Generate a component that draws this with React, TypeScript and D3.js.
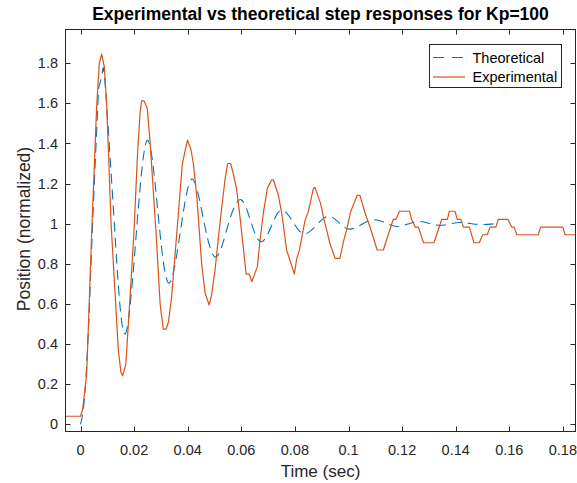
import React from "react";
import * as d3 from "d3";

// Theoretical step response
const theoTime = [0, 0.001, 0.002, 0.003, 0.0035, 0.0045, 0.0063, 0.007, 0.0081, 0.0092, 0.0126, 0.0166, 0.0211, 0.0252, 0.0293, 0.0332, 0.0377, 0.0418, 0.0462, 0.0506, 0.0552, 0.0598, 0.0638, 0.0676, 0.0716, 0.0753, 0.0797, 0.0838, 0.0886, 0.0928, 0.0969, 0.1006, 0.1054, 0.11, 0.1145, 0.1184, 0.1226, 0.1266, 0.1305, 0.1343, 0.1381, 0.1418, 0.146, 0.15, 0.1552];
const theoValue = [0, 0.07, 0.23, 0.49, 0.65, 1.0, 1.55, 1.69, 1.75, 1.69, 1.0, 0.45, 1.0, 1.415, 1.0, 0.705, 1.0, 1.222, 1.0, 0.834, 1.0, 1.12, 1.0, 0.91, 1.0, 1.068, 1.0, 0.95, 1.0, 1.037, 1.0, 0.973, 1.0, 1.02, 1.0, 0.986, 1.0, 1.011, 1.0, 0.992, 1.0, 1.006, 1.0, 0.996, 1.0];

const expTime = [-0.0058, 0.0, 0.0008, 0.0023, 0.0042, 0.006, 0.007, 0.0079, 0.0089, 0.0098, 0.0114, 0.0141, 0.0151, 0.0157, 0.0169, 0.0185, 0.0199, 0.0212, 0.0222, 0.0228, 0.0237, 0.0249, 0.0259, 0.0282, 0.0297, 0.0309, 0.0319, 0.0328, 0.034, 0.0359, 0.038, 0.0399, 0.0412, 0.0421, 0.0434, 0.0452, 0.0465, 0.048, 0.0489, 0.0502, 0.052, 0.0539, 0.0549, 0.056, 0.057, 0.0583, 0.0595, 0.0607, 0.0618, 0.063, 0.0639, 0.066, 0.067, 0.0682, 0.0697, 0.0713, 0.072, 0.0738, 0.0751, 0.0769, 0.0798, 0.0807, 0.0817, 0.0838, 0.085, 0.0869, 0.0875, 0.0896, 0.0906, 0.0931, 0.095, 0.0968, 0.0981, 0.0993, 0.1008, 0.1033, 0.1043, 0.1062, 0.108, 0.1107, 0.113, 0.1167, 0.1177, 0.119, 0.1228, 0.1235, 0.1249, 0.1261, 0.128, 0.1319, 0.1348, 0.1369, 0.1376, 0.1397, 0.1406, 0.1419, 0.1429, 0.1451, 0.1468, 0.1488, 0.1501, 0.1518, 0.1528, 0.155, 0.1559, 0.1595, 0.1609, 0.1618, 0.1628, 0.1708, 0.1717, 0.18, 0.1808, 0.1849];
const expValue = [0.04, 0.04, 0.075, 0.25, 0.97, 1.58, 1.8, 1.845, 1.78, 1.58, 1.0, 0.37, 0.257, 0.242, 0.3, 0.64, 0.95, 1.33, 1.55, 1.612, 1.612, 1.575, 1.417, 0.95, 0.6, 0.474, 0.474, 0.51, 0.636, 0.95, 1.3, 1.417, 1.37, 1.3, 1.135, 0.8, 0.653, 0.595, 0.645, 0.77, 1.0, 1.218, 1.3, 1.3, 1.25, 1.168, 1.035, 0.885, 0.749, 0.749, 0.711, 0.786, 0.92, 1.05, 1.176, 1.218, 1.218, 1.143, 1.052, 0.869, 0.749, 0.827, 0.869, 1.018, 1.06, 1.176, 1.18, 1.1, 1.035, 0.9, 0.827, 0.827, 0.91, 0.969, 1.06, 1.143, 1.14, 1.052, 0.985, 0.869, 0.869, 1.022, 1.022, 1.062, 1.062, 1.022, 0.983, 0.983, 0.905, 0.905, 1.022, 1.022, 1.062, 1.062, 1.022, 1.022, 0.983, 0.983, 0.905, 0.905, 0.945, 0.945, 0.983, 0.983, 1.022, 1.022, 0.983, 0.983, 0.945, 0.945, 0.983, 0.983, 0.945, 0.945];

const xTicks = [0, 0.02, 0.04, 0.06, 0.08, 0.1, 0.12, 0.14, 0.16, 0.18];
const xTickLabels = ["0", "0.02", "0.04", "0.06", "0.08", "0.1", "0.12", "0.14", "0.16", "0.18"];
const yTicks = [0, 0.2, 0.4, 0.6, 0.8, 1, 1.2, 1.4, 1.6, 1.8];
const yTickLabels = ["0", "0.2", "0.4", "0.6", "0.8", "1", "1.2", "1.4", "1.6", "1.8"];
const seriesNames = ["Theoretical", "Experimental"];

const W = 577;
const H = 483;
const L = 65.5, R = 575.5, T = 29.5, B = 431.5;
const BLUE = "#0072BD";
const ORANGE = "#D95319";
const AX = "#262626";
const FONT = "'Liberation Sans', Arial, Helvetica, sans-serif";

export default function App() {
  const x = d3.scaleLinear().domain([-0.0058, 0.1849]).range([65, 576]);
  const y = d3.scaleLinear().domain([-0.0384, 1.9706]).range([432, 29]);

  const theo = theoTime.map((t, i) => [t, theoValue[i]] as [number, number]);
  const exp = expTime.map((t, i) => [t, expValue[i]] as [number, number]);

  const theoLine = d3
    .line<[number, number]>()
    .x((d) => x(d[0]))
    .y((d) => y(d[1]))
    .curve(d3.curveNatural);
  const expLine = d3
    .line<[number, number]>()
    .x((d) => x(d[0]))
    .y((d) => y(d[1]))
    .curve(d3.curveLinear);

  const tl = 5;
  return (
    <svg
      width={W}
      height={H}
      style={{ position: "absolute", left: 0, top: 0, background: "#fff" }}
      fontFamily={FONT}
    >
      <rect x={0} y={0} width={W} height={H} fill="#fff" />
      <defs>
        <clipPath id="plotclip">
          <rect x={65} y={29} width={511} height={403} />
        </clipPath>
      </defs>
      <g clipPath="url(#plotclip)">
        <path d={theoLine(theo) || ""} fill="none" stroke={BLUE} strokeWidth={1.1} strokeDasharray="10,6" />
        <path d={expLine(exp) || ""} fill="none" stroke={ORANGE} strokeWidth={1.2} strokeLinejoin="round" />
      </g>
      {/* axes box */}
      <rect x={L} y={T} width={R - L} height={B - T} fill="none" stroke={AX} strokeWidth={1} />
      {xTicks.map((t, i) => {
        const px = Math.round(x(t)) + 0.5;
        return (
          <g key={"xt" + i}>
            <line x1={px} x2={px} y1={B} y2={B - tl} stroke={AX} />
            <line x1={px} x2={px} y1={T} y2={T + tl} stroke={AX} />
            <text x={x(t)} y={455} textAnchor="middle" fontSize={14.5} fill={AX}>
              {xTickLabels[i]}
            </text>
          </g>
        );
      })}
      {yTicks.map((v, i) => {
        const py = Math.round(y(v)) + 0.5;
        return (
          <g key={"yt" + i}>
            <line x1={L} x2={L + tl} y1={py} y2={py} stroke={AX} />
            <line x1={R} x2={R - tl} y1={py} y2={py} stroke={AX} />
            <text x={58} y={y(v)} dy="0.35em" textAnchor="end" fontSize={14.5} fill={AX}>
              {yTickLabels[i]}
            </text>
          </g>
        );
      })}
      <text x={320.5} y={20} textAnchor="middle" fontSize={17.5} fontWeight="bold" fill="#000">
        Experimental vs theoretical step responses for Kp=100
      </text>
      <text x={320.5} y={477} textAnchor="middle" fontSize={17} fill={AX}>
        Time (sec)
      </text>
      <text
        transform={`translate(30,229) rotate(-90)`}
        textAnchor="middle"
        fontSize={17.5}
        fill={AX}
      >
        Position (normalized)
      </text>
      {/* legend */}
      <g>
        <rect x={429.5} y={44.5} width={132} height={43} fill="#fff" stroke={AX} strokeWidth={1} />
        <line x1={433} x2={465} y1={57.5} y2={57.5} stroke={BLUE} strokeWidth={1.1} strokeDasharray="11,8" />
        <line x1={433} x2={465} y1={77} y2={77} stroke={ORANGE} strokeWidth={1.2} />
        <text x={472.5} y={57.5} dy="0.35em" fontSize={14.5} fill="#000">
          {seriesNames[0]}
        </text>
        <text x={472.5} y={77} dy="0.35em" fontSize={14.5} fill="#000">
          {seriesNames[1]}
        </text>
      </g>
    </svg>
  );
}
